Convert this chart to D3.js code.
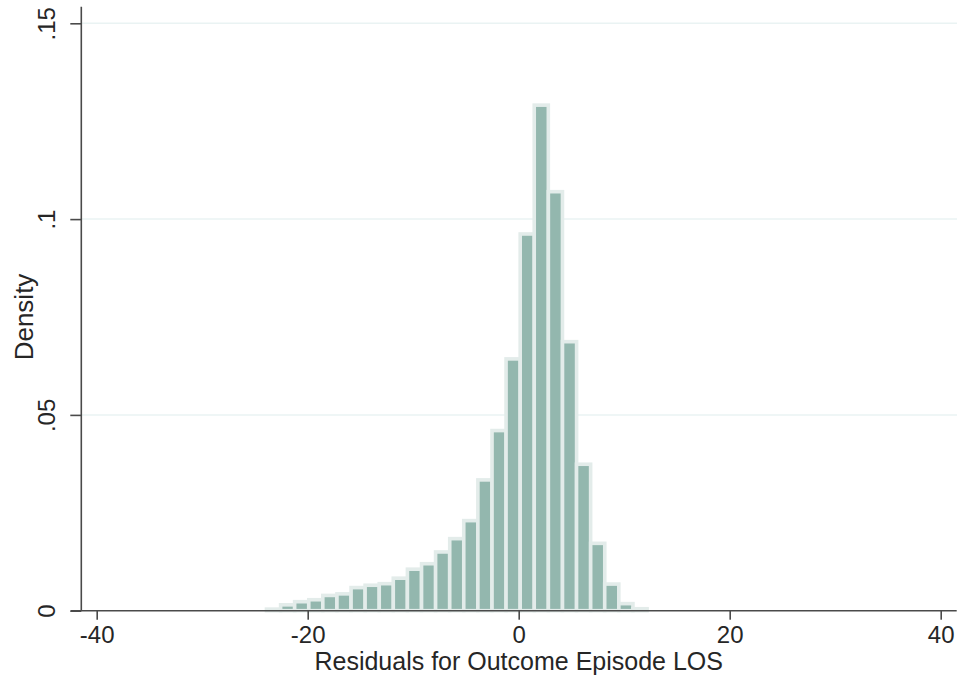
<!DOCTYPE html>
<html>
<head>
<meta charset="utf-8">
<script src="https://cdn.jsdelivr.net/npm/d3@7"></script>
<style>
  body { margin: 0; background: #fff; }
  text { font-family: "Liberation Sans", Arial, sans-serif; fill: #262626; }
</style>
</head>
<body>
<svg id="chart" width="959" height="681"></svg>
<script>
// histogram bin midpoints (residual units) and densities
var binMids = [-23.24, -21.90, -20.57, -19.23, -17.90, -16.56, -15.22, -13.89, -12.55,
  -11.22, -9.88, -8.54, -7.21, -5.87, -4.54, -3.20, -1.86, -0.53, 0.81, 2.14, 3.48,
  4.82, 6.15, 7.49, 8.82, 10.16, 11.50];
var binWidth = 1.336;
var density = [0.0004, 0.0015, 0.0023, 0.0028, 0.0039, 0.0043, 0.0059, 0.0065, 0.0069,
  0.0083, 0.0106, 0.0120, 0.0150, 0.0184, 0.0230, 0.0334, 0.0460, 0.0643, 0.0962,
  0.1291, 0.1070, 0.0687, 0.0374, 0.0172, 0.0068, 0.0018, 0.0005];
var xTicks = [-40, -20, 0, 20, 40];
var yTicks = [0, 0.05, 0.1, 0.15];
var xTitle = "Residuals for Outcome Episode LOS";
var yTitle = "Density";

var svg = d3.select("#chart");
var AXIS_COLOR = "#4a4a4a";

var x = d3.scaleLinear().domain([-40, 40]).range([96.7, 940.7]);
var y = d3.scaleLinear().domain([0, 0.15]).range([610.7, 23.3]);

// gridlines
svg.append("g")
  .selectAll("line")
  .data(yTicks.filter(function (d) { return d > 0; }))
  .enter().append("line")
  .attr("x1", 82).attr("x2", 957)
  .attr("y1", function (d) { return y(d); })
  .attr("y2", function (d) { return y(d); })
  .attr("stroke", "#eaf3f3")
  .attr("stroke-width", 1.5);

// bars
var bars = binMids.map(function (m, i) { return {x0: m - binWidth / 2, x1: m + binWidth / 2, d: density[i]}; });
svg.append("g")
  .selectAll("rect")
  .data(bars)
  .enter().append("rect")
  .attr("x", function (d) { return x(d.x0); })
  .attr("width", function (d) { return x(d.x1) - x(d.x0); })
  .attr("y", function (d) { return y(d.d); })
  .attr("height", function (d) { return y(0) - y(d.d); })
  .attr("fill", "#93b7ae")
  .attr("stroke", "#e3ecea")
  .attr("stroke-width", 3.6);

// y axis
var yAxis = d3.axisLeft(y)
  .tickValues(yTicks)
  .tickSize(11)
  .tickFormat(function (d) { return d === 0 ? "0" : String(d).replace("0.", "."); });

var gy = svg.append("g")
  .attr("transform", "translate(81.3,0)")
  .call(yAxis);
gy.select(".domain").remove();
gy.selectAll(".tick line").attr("stroke", AXIS_COLOR).attr("stroke-width", 1.6);
gy.selectAll(".tick text")
  .attr("x", null).attr("dy", null)
  .attr("transform", "translate(-26,0) rotate(-90)")
  .attr("text-anchor", "middle")
  .style("font-size", "24px")
  .style("font-family", "Liberation Sans, Arial, sans-serif")
  .attr("fill", "#262626");
gy.append("line")
  .attr("x1", 0).attr("x2", 0)
  .attr("y1", 6.7).attr("y2", y(0))
  .attr("stroke", AXIS_COLOR).attr("stroke-width", 1.6);

// x axis
var xAxis = d3.axisBottom(x)
  .tickValues(xTicks)
  .tickSize(9)
  .tickFormat(function (d) { return String(d); });

var gx = svg.append("g")
  .attr("transform", "translate(0," + y(0) + ")")
  .call(xAxis);
gx.select(".domain").remove();
gx.selectAll(".tick line").attr("stroke", AXIS_COLOR).attr("stroke-width", 1.6);
gx.selectAll(".tick text")
  .attr("y", 32.5).attr("dy", null)
  .style("font-size", "24px")
  .style("font-family", "Liberation Sans, Arial, sans-serif")
  .attr("fill", "#262626");
gx.append("line")
  .attr("x1", 70.7).attr("x2", 956.7)
  .attr("y1", 0).attr("y2", 0)
  .attr("stroke", AXIS_COLOR).attr("stroke-width", 1.6);

// titles
svg.append("text")
  .attr("x", x(0))
  .attr("y", 669.5)
  .attr("text-anchor", "middle")
  .style("font-size", "25px")
  .text(xTitle);

svg.append("text")
  .attr("transform", "translate(33," + y(0.075) + ") rotate(-90)")
  .attr("text-anchor", "middle")
  .style("font-size", "26px")
  .text(yTitle);
</script>
</body>
</html>
